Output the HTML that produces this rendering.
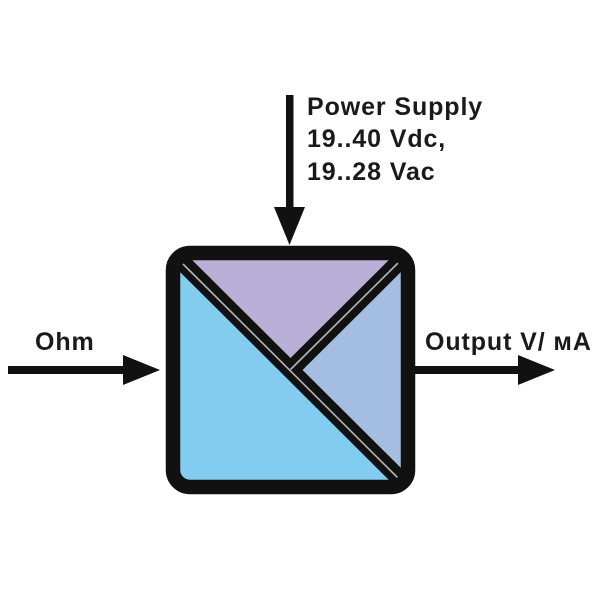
<!DOCTYPE html>
<html>
<head>
<meta charset="utf-8">
<style>
html,body{margin:0;padding:0;background:#fff;}
svg{display:block;}
text{font-family:"Liberation Sans",Arial,sans-serif;font-weight:bold;font-size:25px;fill:#1a1a1a;letter-spacing:0.9px;}
</style>
</head>
<body>
<svg width="600" height="600" viewBox="0 0 600 600" xmlns="http://www.w3.org/2000/svg">
<defs>
<clipPath id="inner"><rect x="180" y="260" width="221" height="220" rx="8"/></clipPath>
</defs>
<!-- colored regions -->
<g clip-path="url(#inner)">
<polygon points="166,246 415,246 290.5,370" fill="#b9b0d8"/>
<polygon points="415,246 415,494 290.5,370" fill="#a4bee2"/>
<polygon points="166,246 166,494 415,494" fill="#82cdef"/>
<line x1="166" y1="246" x2="415" y2="494" stroke="#111" stroke-width="17"/>
<line x1="290.5" y1="370" x2="420" y2="241" stroke="#111" stroke-width="17"/>
<line x1="183" y1="264" x2="398" y2="478" stroke="#b5b5b5" stroke-width="1.6"/>
<line x1="290.5" y1="369.5" x2="400" y2="261" stroke="#b5b5b5" stroke-width="1.6"/>
</g>
<!-- border -->
<rect x="173" y="253" width="235" height="234" rx="17" fill="none" stroke="#111" stroke-width="14.5"/>
<!-- top arrow -->
<rect x="286" y="95" width="7.5" height="116" fill="#111"/>
<polygon points="274,207 305,207 289.5,245" fill="#111"/>
<!-- left arrow -->
<rect x="8" y="366" width="118" height="8" fill="#111"/>
<polygon points="123,355 160,370 123,385" fill="#111"/>
<!-- right arrow -->
<rect x="415" y="366" width="106" height="8" fill="#111"/>
<polygon points="518,355 555,370 518,385" fill="#111"/>
<!-- labels -->
<text x="307" y="115">Power Supply</text>
<text x="307" y="147">19..40 Vdc,</text>
<text x="307" y="180">19..28 Vac</text>
<text x="35" y="350">Ohm</text>
<text x="425" y="350">Output V/ мA</text>
</svg>
</body>
</html>
